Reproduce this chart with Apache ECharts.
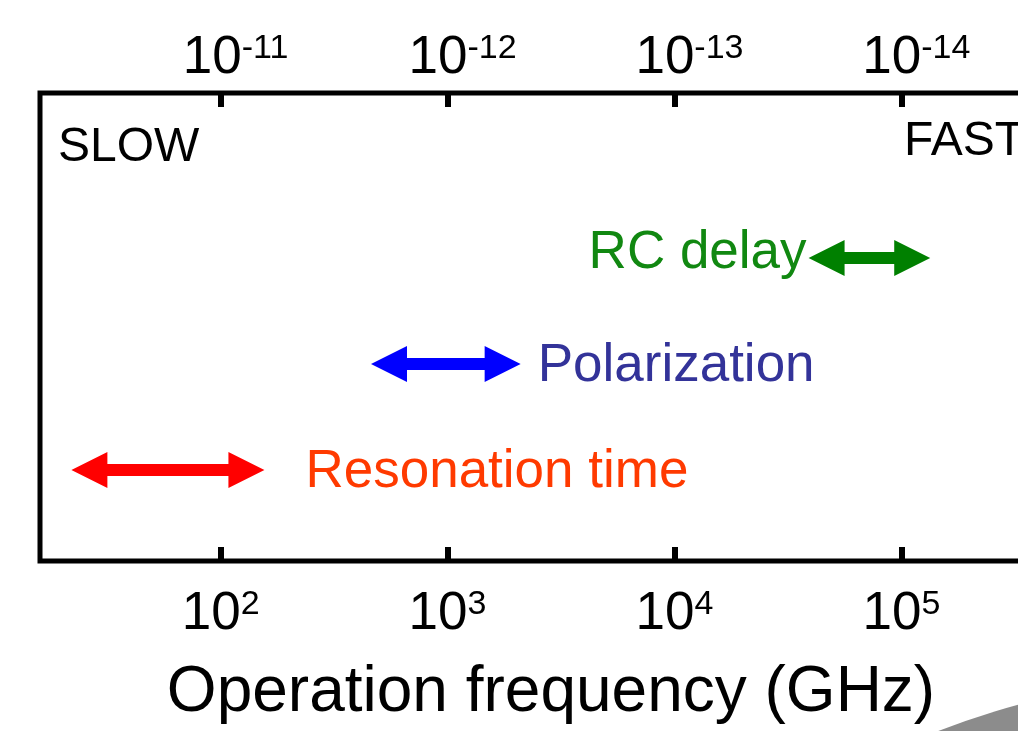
<!DOCTYPE html>
<html>
<head>
<meta charset="utf-8">
<title>Operation frequency of switching mechanisms</title>
<script src="https://cdn.jsdelivr.net/npm/echarts@6/dist/echarts.min.js"></script>
<style>
  html, body { margin: 0; padding: 0; background: #fff; }
  #chart { width: 1018px; height: 731px; }
</style>
</head>
<body>
<div id="chart"></div>
<script>
// Mechanisms and the frequency range (GHz) each one spans
const mechanisms = ['Resonation time', 'Polarization', 'RC delay'];
const freqLow = [22, 460, 39000];
const freqHigh = [156, 2100, 134000];
const lanes = [0, 1, 2];

// Decade ticks: frequency exponents (GHz) and matching period exponents (s)
const freqTickExp = [2, 3, 4, 5];
const periodTickExp = [-11, -12, -13, -14];

// Axis extent (GHz)
const freqMin = 16;
const freqMax = 400000;

// Drawing styles per mechanism
const arrowColors = ['#ff0000', '#0000ff', '#008000'];
const labelColors = ['#ff3a00', '#333399', '#118811'];
const labelPlacement = [
  { side: 'right', gap: 41, dy: 2 },
  { side: 'right', gap: 17, dy: 2 },
  { side: 'left', gap: 2, dy: -5 }
];

const FONT = "'Liberation Sans', Arial, Helvetica, sans-serif";

const arrowData = mechanisms.map((name, i) => [freqLow[i], freqHigh[i], lanes[i], name]);

function expOf(v) {
  const e = Math.log10(v);
  return Math.abs(e - Math.round(e)) < 1e-6 ? Math.round(e) : null;
}

const chart = echarts.init(document.getElementById('chart'), null, { renderer: 'canvas' });

const labelRich = {
  b: { fontSize: 53, fontFamily: FONT, color: '#000', lineHeight: 53 },
  s: { fontSize: 34, fontFamily: FONT, color: '#000', verticalAlign: 'top' }
};

const tickStyle = { show: true, inside: true, length: 14, lineStyle: { color: '#000', width: 6 } };

const option = {
  animation: false,
  backgroundColor: '#fff',
  grid: {
    left: 40, top: 93, width: 998, height: 468,
    containLabel: false,
    outerBoundsMode: 'none',
    show: true, borderColor: '#000', borderWidth: 5,
    backgroundColor: 'transparent'
  },
  xAxis: [
    {
      type: 'log', logBase: 10, min: freqMin, max: freqMax, position: 'bottom',
      name: 'Operation frequency (GHz)',
      nameLocation: 'middle', nameGap: 100,
      nameTextStyle: { fontSize: 64, fontFamily: FONT, color: '#000', padding: [0, 0, 0, 24] },
      axisLine: { show: false, onZero: false },
      axisTick: tickStyle,
      splitLine: { show: false },
      minorTick: { show: false },
      axisLabel: {
        margin: 27, showMinLabel: false, showMaxLabel: false,
        formatter: v => {
          const e = expOf(v);
          if (e === null || freqTickExp.indexOf(e) < 0) return '';
          return '{b|10}{s|' + e + '}';
        },
        rich: labelRich
      }
    },
    {
      type: 'log', logBase: 10, min: freqMin, max: freqMax, position: 'top',
      axisLine: { show: false, onZero: false },
      axisTick: tickStyle,
      splitLine: { show: false },
      minorTick: { show: false },
      axisLabel: {
        margin: 8, showMinLabel: false, showMaxLabel: false,
        padding: [0, 0, 0, 30],
        formatter: v => {
          const e = expOf(v);
          const idx = e === null ? -1 : freqTickExp.indexOf(e);
          if (idx < 0) return '';
          return '{b|10}{s|' + periodTickExp[idx] + '}';
        },
        rich: labelRich
      }
    }
  ],
  yAxis: {
    type: 'value', min: -0.858, max: 3.557, show: false
  },
  series: [
    {
      type: 'custom',
      xAxisIndex: 0,
      yAxisIndex: 0,
      clip: false,
      data: arrowData,
      renderItem: (params, api) => {
        const i = params.dataIndex;
        const p0 = api.coord([api.value(0), api.value(2)]);
        const p1 = api.coord([api.value(1), api.value(2)]);
        const y = p0[1];
        const x0 = p0[0], x1 = p1[0];
        const head = 36, half = 18, shaft = 6;
        const pts = [
          [x0, y], [x0 + head, y - half], [x0 + head, y - shaft],
          [x1 - head, y - shaft], [x1 - head, y - half], [x1, y],
          [x1 - head, y + half], [x1 - head, y + shaft],
          [x0 + head, y + shaft], [x0 + head, y + half]
        ];
        const place = labelPlacement[i];
        const tx = place.side === 'right' ? x1 + place.gap : x0 - place.gap;
        return {
          type: 'group',
          children: [
            { type: 'polygon', shape: { points: pts }, style: { fill: arrowColors[i] } },
            {
              type: 'text',
              style: {
                text: mechanisms[i], x: tx, y: y + place.dy,
                fill: labelColors[i], fontSize: 53, fontFamily: FONT,
                align: place.side === 'right' ? 'left' : 'right',
                verticalAlign: 'middle'
              }
            }
          ]
        };
      }
    }
  ],
  graphic: [
    {
      type: 'text', left: 58, top: 124,
      style: { text: 'SLOW', fontSize: 48, fontFamily: FONT, fill: '#000' }
    },
    {
      type: 'text', left: 904, top: 118,
      style: { text: 'FAST', fontSize: 48, fontFamily: FONT, fill: '#000' }
    },
    {
      type: 'circle', z: -1,
      shape: { cx: 1219, cy: 1448, r: 770 },
      style: { fill: '#8c8c8c' }
    }
  ]
};

chart.setOption(option);
</script>
</body>
</html>
